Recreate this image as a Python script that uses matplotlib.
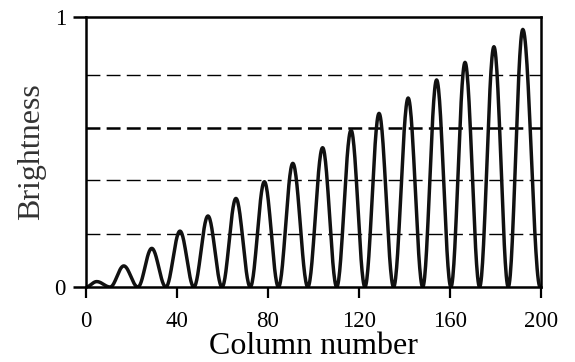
import matplotlib

matplotlib.use("Agg")
import matplotlib.pyplot as plt
import numpy as np

# values
peak_x = [4.7, 16.6, 28.9, 41.3, 53.6, 65.9, 78.4, 90.9, 104.0, 116.5,
          128.8, 141.6, 154.1, 166.6, 179.3, 192.0]
peak_y = [0.02, 0.078, 0.143, 0.207, 0.263, 0.328, 0.39, 0.458, 0.516,
          0.581, 0.643, 0.70, 0.767, 0.832, 0.89, 0.954]
trough_x = [0.0, 10.6, 22.8, 35.1, 47.4, 59.8, 72.2, 84.6, 97.5, 110.2,
            122.6, 135.2, 148.0, 160.4, 173.0, 185.6, 199.6]
ref_levels = [0.196, 0.396, 0.59, 0.785]
ref_widths = [1.0, 1.0, 1.8, 1.0]
x_ticks = [0, 40, 80, 120, 160, 200]
y_ticks = [0, 1]

plt.rcParams["font.family"] = ["Liberation Serif", "DejaVu Serif"]

fig = plt.figure(figsize=(5.75, 3.62), dpi=100)
ax = fig.add_axes([0.1496, 0.2072, 0.7913, 0.7458])

# each hump: half-cosine rise from a trough to its peak, half-cosine fall to next trough
xs, ys = [], []
t = np.linspace(0, 1, 30)
for i, (px, py) in enumerate(zip(peak_x, peak_y)):
    x0, x1 = trough_x[i], trough_x[i + 1]
    ease = (1 - np.cos(np.pi * t)) / 2
    xs.extend(x0 + (px - x0) * t)
    ys.extend(py * ease)
    xs.extend(px + (x1 - px) * t)
    ys.extend(py * (1 - ease))

# dash pattern in points, so divide by linewidth to keep the same dash length
for lvl, lw in zip(ref_levels, ref_widths):
    ax.axhline(lvl, color="black", lw=lw, dashes=(10 / lw, 4.5 / lw), zorder=1)

ax.plot(xs, ys, color="#111111", lw=2.5, zorder=2, solid_joinstyle="round")

ax.set_xlim(0, 200)
ax.set_ylim(0, 1)
ax.set_xticks(x_ticks)
ax.set_yticks(y_ticks)
ax.set_xticklabels([str(v) for v in x_ticks])
ax.set_yticklabels([str(v) for v in y_ticks])
ax.tick_params(axis="x", direction="out", length=8, width=1.6, pad=9,
               labelsize=16.5, colors="black")
ax.tick_params(axis="y", direction="out", length=9.5, width=1.8, pad=5,
               labelsize=16.5, colors="black")
for sp in ax.spines.values():
    sp.set_linewidth(1.8)
    sp.set_color("black")

ax.set_xlabel("Column number", fontsize=23, labelpad=0)
ax.set_ylabel("Brightness", fontsize=23, labelpad=6, color="#333333")

fig.savefig("out.png", dpi=100)
